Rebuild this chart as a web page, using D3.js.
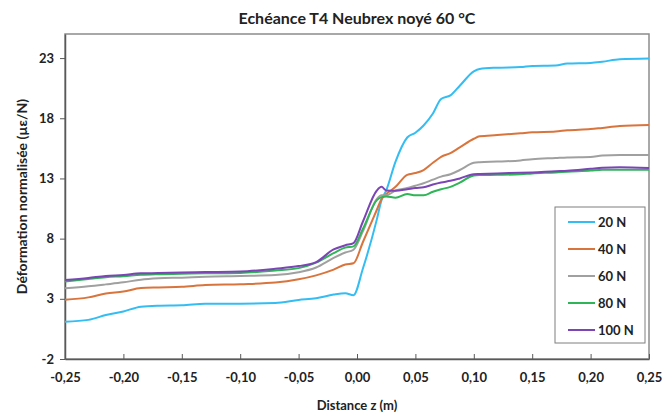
<!DOCTYPE html>
<html>
<head>
<meta charset="utf-8">
<script src="https://cdn.jsdelivr.net/npm/d3@7"></script>
<style>
  body { margin: 0; background: #fff; }
  svg { font-family: Lato, "Open Sans", sans-serif; font-weight: bold; }
</style>
</head>
<body>
<div id="chart"></div>
<script>
const distance = [-0.25, -0.23, -0.215, -0.2, -0.185, -0.17, -0.15, -0.13, -0.1, -0.07, -0.05, -0.035, -0.02, -0.01, -0.003,
  0.005, 0.017, 0.021, 0.025, 0.033, 0.043, 0.05, 0.057, 0.065, 0.072, 0.08, 0.088, 0.1, 0.105, 0.12, 0.14, 0.15, 0.17, 0.18, 0.2, 0.21, 0.225, 0.25];

const n20 = [1.1, 1.25, 1.65, 1.95, 2.35, 2.43, 2.46, 2.6, 2.6, 2.65, 2.9, 3.05, 3.35, 3.46, 3.3,
  5.5, 9.6, 11.2, 12.0, 14.4, 16.4, 16.8, 17.4, 18.4, 19.6, 19.9, 20.7, 21.9, 22.1, 22.2, 22.25, 22.35, 22.38, 22.55, 22.6, 22.7, 22.9, 22.97];
const n40 = [2.93, 3.12, 3.45, 3.6, 3.9, 3.95, 4.0, 4.15, 4.22, 4.35, 4.62, 4.95, 5.42, 5.85, 5.95,
  7.7, 10.4, 11.3, 11.7, 12.3, 13.3, 13.45, 13.7, 14.3, 14.8, 15.1, 15.58, 16.3, 16.5, 16.6, 16.75, 16.83, 16.9, 17.0, 17.1, 17.2, 17.35, 17.44];
const n60 = [3.87, 4.04, 4.2, 4.37, 4.59, 4.7, 4.76, 4.84, 4.9, 4.97, 5.2, 5.6, 6.4, 6.85, 7.08,
  8.6, 11.3, 11.6, 11.6, 12.0, 12.2, 12.4, 12.6, 12.9, 13.15, 13.35, 13.7, 14.3, 14.35, 14.4, 14.5, 14.6, 14.7, 14.75, 14.78, 14.9, 14.94, 14.94];
const n80 = [4.43, 4.65, 4.8, 4.88, 5.0, 5.05, 5.08, 5.12, 5.15, 5.35, 5.55, 6.0, 6.8, 7.25, 7.36,
  8.8, 11.2, 11.45, 11.5, 11.4, 11.7, 11.6, 11.6, 11.9, 12.1, 12.3, 12.65, 13.25, 13.28, 13.3, 13.35, 13.42, 13.5, 13.56, 13.65, 13.72, 13.73, 13.73];
const n100 = [4.56, 4.73, 4.9, 4.98, 5.12, 5.14, 5.18, 5.22, 5.27, 5.5, 5.72, 6.05, 7.1, 7.45, 7.63,
  9.4, 12.0, 12.3, 12.0, 11.98, 12.1, 12.2, 12.26, 12.5, 12.67, 12.8, 13.0, 13.35, 13.37, 13.42, 13.47, 13.5, 13.6, 13.64, 13.8, 13.88, 13.92, 13.86];

const seriesNames = ["20 N", "40 N", "60 N", "80 N", "100 N"];
const seriesValues = [n20, n40, n60, n80, n100];
const colors = ["#33bdf2", "#d9743c", "#a0a0a0", "#2fb457", "#7b45b5"];

const xTicks = [-0.25, -0.2, -0.15, -0.1, -0.05, 0, 0.05, 0.1, 0.15, 0.2, 0.25];
const yTicks = [-2, 3, 8, 13, 18, 23];

const width = 664, height = 414;
const margin = { top: 34, right: 15, bottom: 55, left: 65 };

const svg = d3.select("#chart").append("svg")
  .attr("width", width)
  .attr("height", height);

const x = d3.scaleLinear().domain([-0.25, 0.25]).range([margin.left, width - margin.right]);
const y = d3.scaleLinear().domain([-2, 25]).range([height - margin.bottom, margin.top]);

// excel style: hyphen minus and decimal comma
const fmtX = (d) => d3.format(".2f")(d).replace(".", ",").replace("\u2212", "-");
const fmtY = (d) => String(d);

// plot frame
svg.append("rect")
  .attr("x", x(-0.25))
  .attr("y", y(25))
  .attr("width", x(0.25) - x(-0.25))
  .attr("height", y(-2) - y(25))
  .attr("fill", "none")
  .attr("stroke", "#8c8c8c")
  .attr("stroke-width", 1.5);

// x axis, ticks inside
svg.append("g")
  .attr("transform", `translate(0,${y(-2)})`)
  .call(d3.axisBottom(x).tickValues(xTicks).tickSizeInner(-5).tickSizeOuter(0).tickPadding(14).tickFormat(fmtX))
  .call((g) => g.select(".domain").attr("stroke", "#595959").attr("stroke-width", 1.5))
  .call((g) => g.selectAll(".tick line").attr("stroke", "#595959"))
  .call((g) => g.selectAll("text").attr("font-size", 13).attr("font-family", "Lato").attr("fill", "#222"));

// y axis, ticks outside
svg.append("g")
  .attr("transform", `translate(${x(-0.25)},0)`)
  .call(d3.axisLeft(y).tickValues(yTicks).tickSizeInner(5).tickSizeOuter(0).tickPadding(6).tickFormat(fmtY))
  .call((g) => g.select(".domain").attr("stroke", "#595959").attr("stroke-width", 1.5))
  .call((g) => g.selectAll(".tick line").attr("stroke", "#595959"))
  .call((g) => g.selectAll("text").attr("font-size", 13).attr("font-family", "Lato").attr("fill", "#222"));

const line = d3.line()
  .x((d, i) => x(distance[i]))
  .y((d) => y(d))
  .curve(d3.curveMonotoneX);

svg.append("g")
  .attr("fill", "none")
  .attr("stroke-width", 2)
  .selectAll("path")
  .data(seriesValues)
  .join("path")
  .attr("stroke", (d, i) => colors[i])
  .attr("d", line);

// title
svg.append("text")
  .attr("x", (x(-0.25) + x(0.25)) / 2)
  .attr("y", 24)
  .attr("text-anchor", "middle")
  .attr("font-size", 16)
  .attr("fill", "#222")
  .text("Echéance T4 Neubrex noyé 60 °C");

svg.append("text")
  .attr("x", (x(-0.25) + x(0.25)) / 2)
  .attr("y", 410)
  .attr("text-anchor", "middle")
  .attr("font-size", 13)
  .attr("fill", "#222")
  .text("Distance z (m)");

svg.append("text")
  .attr("transform", `translate(27,${(y(-2) + y(25)) / 2}) rotate(-90)`)
  .attr("text-anchor", "middle")
  .attr("font-size", 14)
  .attr("fill", "#222")
  .text("Déformation normalisée (µε/N)");

// legend
const legend = svg.append("g");
legend.append("rect")
  .attr("x", 555).attr("y", 207)
  .attr("width", 90).attr("height", 136)
  .attr("fill", "#fff")
  .attr("stroke", "#7f7f7f");

const item = legend.selectAll("g.item")
  .data(seriesNames)
  .join("g")
  .attr("class", "item")
  .attr("transform", (d, i) => `translate(568,${222 + i * 27})`);

item.append("line")
  .attr("x1", 0).attr("x2", 27)
  .attr("stroke", (d, i) => colors[i])
  .attr("stroke-width", 2);

item.append("text")
  .attr("x", 30)
  .attr("dy", "0.35em")
  .attr("font-size", 13)
  .attr("fill", "#222")
  .text((d) => d);
</script>
</body>
</html>
